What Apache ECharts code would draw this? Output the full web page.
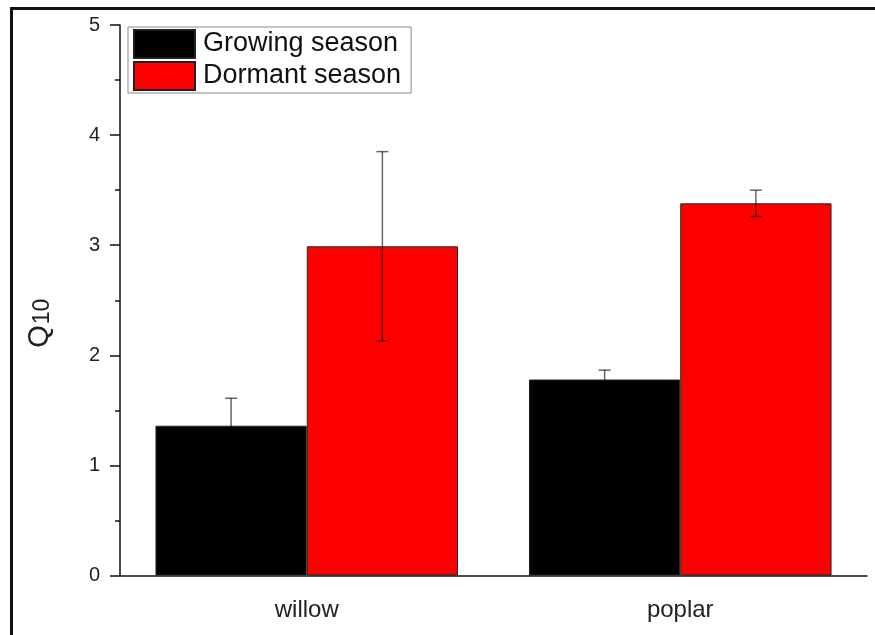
<!DOCTYPE html>
<html>
<head>
<meta charset="utf-8">
<script src="https://cdn.jsdelivr.net/npm/echarts@6/dist/echarts.min.js"></script>
<style>
  html, body { margin: 0; padding: 0; background: #fff; }
  #chart { width: 875px; height: 635px; }
</style>
</head>
<body>
<div id="chart"></div>
<script>
// Q10 temperature sensitivity by species and season (mean ± SE)
const categories = ['willow', 'poplar'];
const growingSeason = [1.36, 1.78];
const growingSeasonErr = [0.25, 0.085];
const dormantSeason = [2.99, 3.38];
const dormantSeasonErr = [0.86, 0.12];
const yTicks = [0, 1, 2, 3, 4, 5];

const FONT = '"Liberation Sans", Arial, sans-serif';
const CATEGORY_GAP = 0.19;               // fraction of a category left empty
const HALF_BAR = (1 - CATEGORY_GAP) / 4; // offset of each bar centre from the category centre

function errorBars(side) {
  return function (params, api) {
    const idx = api.value(0);
    const mean = api.value(1);
    const err = api.value(2);
    const band = api.size([1, 0])[0];
    const hi = api.coord([idx, mean + err]);
    const lo = api.coord([idx, mean - err]);
    const cx = hi[0] + side * band * HALF_BAR;
    const cap = 6;
    // translucent dark stroke: grey on white, dark red on red, lost on black
    const style = { stroke: 'rgba(0,0,0,0.6)', lineWidth: 1.5 };
    return {
      type: 'group',
      children: [
        { type: 'line', shape: { x1: cx, y1: hi[1], x2: cx, y2: lo[1] }, style },
        { type: 'line', shape: { x1: cx - cap, y1: hi[1], x2: cx + cap, y2: hi[1] }, style },
        { type: 'line', shape: { x1: cx - cap, y1: lo[1], x2: cx + cap, y2: lo[1] }, style }
      ]
    };
  };
}

const chart = echarts.init(document.getElementById('chart'), null, { renderer: 'canvas' });

chart.setOption({
  animation: false,
  backgroundColor: '#fff',
  textStyle: { fontFamily: FONT },
  graphic: [
    { type: 'line', shape: { x1: 11, y1: 8.5, x2: 875, y2: 8.5 }, style: { stroke: '#111', lineWidth: 3 } },
    { type: 'line', shape: { x1: 11.5, y1: 7, x2: 11.5, y2: 635 }, style: { stroke: '#111', lineWidth: 3 } }
  ],
  grid: { left: 120, right: 8, top: 25, bottom: 59.5, containLabel: false },
  legend: {
    left: 128, top: 27,
    orient: 'vertical',
    itemWidth: 61, itemHeight: 28, itemGap: 2,
    padding: [2, 10, 2, 5],
    borderColor: '#888', borderWidth: 1,
    icon: 'rect',
    textStyle: { fontFamily: FONT, fontSize: 27, color: '#111', lineHeight: 30, padding: [0, 0, 0, 3] },
    data: ['Growing season', 'Dormant season']
  },
  xAxis: [
    {
      type: 'category',
      data: categories,
      boundaryGap: true,
      axisLine: { lineStyle: { color: '#111', width: 1.5 } },
      axisTick: { alignWithLabel: true, length: 10, lineStyle: { color: '#111', width: 1.5 } },
      axisLabel: { fontFamily: FONT, fontSize: 24, color: '#222', margin: 23 },
      splitLine: { show: false }
    },
    {
      type: 'category',
      data: categories,
      position: 'bottom',
      boundaryGap: true,
      axisLine: { show: false },
      axisTick: { length: 5, lineStyle: { color: '#111', width: 1.5 } },
      axisLabel: { show: false },
      splitLine: { show: false }
    }
  ],
  yAxis: {
    type: 'value',
    min: yTicks[0], max: yTicks[yTicks.length - 1], interval: 1,
    name: '{q|Q}{s|10}',
    nameLocation: 'middle',
    nameRotate: 90,
    nameGap: 66,
    nameTextStyle: {
      padding: [0, 46, 0, 0],
      rich: {
        q: { fontFamily: FONT, fontSize: 29, color: '#222', lineHeight: 34, verticalAlign: 'bottom' },
        s: { fontFamily: FONT, fontSize: 23, color: '#222', lineHeight: 34, verticalAlign: 'bottom', padding: [7, 0, 0, 1] }
      }
    },
    axisLine: { show: true, lineStyle: { color: '#111', width: 1.5 } },
    axisTick: { show: true, length: 10, lineStyle: { color: '#111', width: 1.5 } },
    minorTick: { show: true, splitNumber: 2, length: 5, lineStyle: { color: '#111', width: 1.5 } },
    axisLabel: { fontFamily: FONT, fontSize: 20, color: '#222', margin: 20 },
    splitLine: { show: false }
  },
  series: [
    {
      name: 'Growing season',
      type: 'bar',
      data: growingSeason,
      barGap: '0%',
      barCategoryGap: (CATEGORY_GAP * 100) + '%',
      itemStyle: { color: '#000', borderColor: '#222', borderWidth: 1 }
    },
    {
      name: 'Dormant season',
      type: 'bar',
      data: dormantSeason,
      barGap: '0%',
      barCategoryGap: (CATEGORY_GAP * 100) + '%',
      itemStyle: { color: '#ff0000', borderColor: '#222', borderWidth: 1 }
    },
    {
      type: 'custom',
      renderItem: errorBars(-1),
      data: growingSeason.map((v, i) => [i, v, growingSeasonErr[i]]),
      encode: { x: 0, y: [1, 2] },
      z: 10
    },
    {
      type: 'custom',
      renderItem: errorBars(1),
      data: dormantSeason.map((v, i) => [i, v, dormantSeasonErr[i]]),
      encode: { x: 0, y: [1, 2] },
      z: 10
    }
  ]
});
</script>
</body>
</html>
